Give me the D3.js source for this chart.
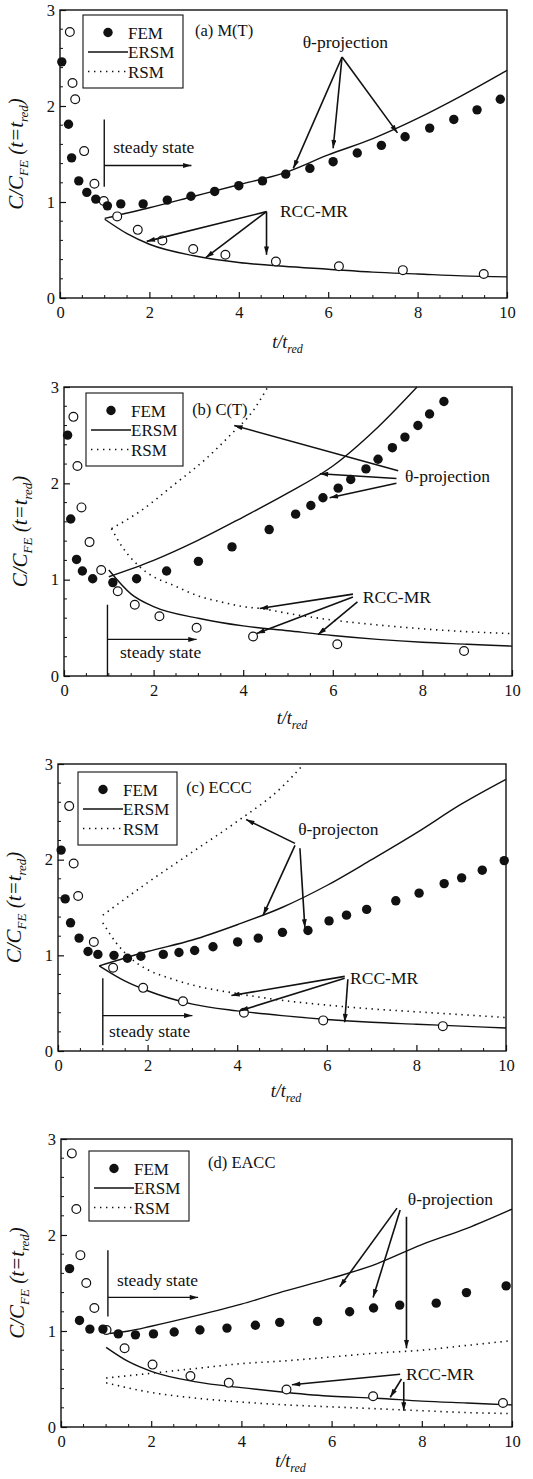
<!DOCTYPE html>
<html>
<head>
<meta charset="utf-8">
<script src="https://cdn.jsdelivr.net/npm/d3@7"></script>
<style>
	body { margin: 0; background: #fff; }
	text { font-family: "Liberation Serif", "DejaVu Serif", serif; fill: #111; }
</style>
</head>
<body>
<svg id="chart" width="533" height="1479"></svg>
<script>
// axis ticks and labels shared by the four panels
const xTicks = [0, 2, 4, 6, 8, 10];
const yTicks = [0, 1, 2, 3];
const legendLabels = ["FEM", "ERSM", "RSM"];
const panelTitles = ["(a) M(T)", "(b) C(T)", "(c) ECCC", "(d) EACC"];
const thetaLabels = ["θ-projection", "θ-projection", "θ-projecton", "θ-projection"];
const rccLabel = "RCC-MR";
const steadyLabel = "steady state";

// (a) M(T)
const femA = [[0.04,2.46],[0.19,1.81],[0.26,1.46],[0.42,1.22],[0.6,1.10],[0.8,1.03],[1.06,0.96],[1.36,0.98],[1.86,0.98],[2.4,1.02],[2.93,1.06],[3.46,1.11],[4.0,1.17],[4.53,1.22],[5.05,1.29],[5.59,1.35],[6.11,1.42],[6.65,1.51],[7.19,1.59],[7.72,1.68],[8.27,1.77],[8.81,1.86],[9.33,1.96],[9.85,2.07]];
const openA = [[0.22,2.77],[0.28,2.24],[0.34,2.07],[0.54,1.53],[0.77,1.19],[0.98,1.01],[1.28,0.85],[1.74,0.71],[2.29,0.60],[2.98,0.51],[3.70,0.45],[4.83,0.38],[6.24,0.33],[7.67,0.29],[9.48,0.25]];
const ersmUpA = [[1,0.83],[2,0.94],[3,1.06],[4,1.18],[5,1.30],[6,1.49],[7,1.66],[8,1.87],[9,2.11],[10,2.37]];
const ersmLowA = [[1,0.82],[1.5,0.67],[2,0.56],[3,0.44],[4,0.37],[5,0.33],[6,0.30],[7,0.27],[8,0.25],[9,0.23],[10,0.22]];

// (b) C(T)
const femB = [[0.08,2.50],[0.15,1.63],[0.28,1.21],[0.41,1.09],[0.64,1.01],[1.09,0.97],[1.62,1.01],[2.29,1.09],[3.0,1.19],[3.75,1.34],[4.58,1.52],[5.17,1.68],[5.51,1.77],[5.78,1.85],[6.12,1.95],[6.40,2.04],[6.74,2.15],[7.01,2.25],[7.33,2.37],[7.61,2.48],[7.90,2.60],[8.16,2.72],[8.48,2.85]];
const openB = [[0.21,2.69],[0.30,2.18],[0.39,1.75],[0.57,1.39],[0.83,1.10],[1.20,0.88],[1.58,0.74],[2.13,0.62],[2.96,0.50],[4.22,0.41],[6.10,0.33],[8.93,0.26]];
const ersmUpB = [[1.0,1.03],[2,1.20],[3,1.41],[4,1.65],[5,1.90],[6,2.18],[7,2.58],[7.88,3.0]];
const ersmLowB = [[1.0,1.10],[1.5,0.85],[2,0.72],[3,0.60],[4,0.52],[5,0.47],[6,0.42],[7,0.38],[8,0.35],[9,0.33],[10,0.31]];
const rsmUpB = [[1.06,1.53],[1.7,1.71],[2.44,1.98],[3.18,2.26],[3.71,2.50],[4.23,2.76],[4.55,3.0]];
const rsmLowB = [[1.06,1.53],[1.3,1.34],[1.7,1.13],[2,1.03],[2.4,0.95],[3,0.83],[3.5,0.77],[4,0.72],[4.4,0.70],[5,0.65],[6,0.58],[7,0.53],[8,0.49],[9,0.46],[10,0.44]];

// (c) ECCC
const femC = [[0.07,2.10],[0.16,1.59],[0.28,1.34],[0.47,1.18],[0.67,1.04],[0.89,1.01],[1.25,1.0],[1.55,0.97],[1.85,0.99],[2.35,1.01],[2.70,1.03],[3.05,1.05],[3.46,1.09],[4.01,1.14],[4.47,1.18],[5.01,1.24],[5.58,1.26],[6.05,1.36],[6.44,1.42],[6.89,1.48],[7.54,1.57],[8.06,1.65],[8.62,1.75],[9.01,1.81],[9.47,1.89],[9.96,1.99]];
const openC = [[0.25,2.56],[0.35,1.96],[0.45,1.62],[0.80,1.14],[1.23,0.87],[1.90,0.66],[2.79,0.52],[4.15,0.40],[5.92,0.32],[8.59,0.26]];
const ersmUpC = [[0.92,0.89],[2,1.04],[3,1.16],[4,1.32],[5,1.50],[6,1.73],[7,2.0],[8,2.28],[9,2.58],[10,2.84]];
const ersmLowC = [[0.92,0.89],[1.5,0.73],[2,0.63],[3,0.49],[4,0.42],[5,0.37],[6,0.33],[7,0.30],[8,0.28],[9,0.26],[10,0.24]];
const rsmUpC = [[1.0,1.42],[2,1.76],[3,2.08],[4,2.40],[5,2.76],[5.45,2.98]];
const rsmLowC = [[1.0,1.34],[1.3,1.13],[1.7,0.94],[2,0.85],[2.5,0.76],[3,0.69],[4,0.60],[5,0.53],[6,0.48],[7,0.44],[8,0.41],[9,0.38],[10,0.35]];

// (d) EACC
const femD = [[0.19,1.65],[0.41,1.11],[0.64,1.02],[0.93,1.02],[1.27,0.97],[1.65,0.96],[2.05,0.97],[2.51,0.99],[3.08,1.01],[3.68,1.03],[4.31,1.06],[4.85,1.09],[5.69,1.10],[6.40,1.20],[6.93,1.24],[7.51,1.27],[8.32,1.29],[8.99,1.40],[9.87,1.47]];
const openD = [[0.24,2.85],[0.34,2.27],[0.43,1.79],[0.56,1.50],[0.74,1.24],[1.01,1.01],[1.41,0.82],[2.03,0.65],[2.87,0.53],[3.72,0.46],[5.0,0.39],[6.92,0.32],[9.80,0.25]];
const ersmUpD = [[0.95,0.97],[1.5,1.0],[2,1.05],[3,1.16],[4,1.28],[5,1.42],[6,1.55],[7,1.70],[8,1.90],[9,2.07],[10,2.27]];
const ersmLowD = [[1.0,0.83],[1.5,0.68],[2,0.58],[3,0.47],[4,0.41],[5,0.36],[6,0.32],[7,0.30],[8,0.27],[9,0.25],[10,0.23]];
const rsmUpD = [[1.0,0.51],[2,0.56],[3,0.61],[4,0.66],[5,0.69],[6,0.73],[7,0.77],[8,0.80],[9,0.85],[10,0.90]];
const rsmLowD = [[1.0,0.46],[2,0.36],[3,0.30],[4,0.26],[5,0.23],[6,0.21],[7,0.19],[8,0.17],[9,0.15],[10,0.14]];

// layout and annotation placement per panel (annotations in data units)
const panels = [
	{
		fem: femA, open: openA, solid: [ersmUpA, ersmLowA], dotted: [],
		box: { left: 60, right: 507, top: 10, bottom: 298 }, xTitleDy: 50,
		legend: { x: 23, y: 5, w: 100, h: 73 },
		titleAt: [3.02, 2.73], thetaAt: [5.43, 2.60], rccAt: [4.92, 0.84], steadyAt: [1.19, 1.51],
		thetaArrows: [[6.31,2.51,5.22,1.35],[6.31,2.51,6.11,1.56],[6.31,2.51,7.55,1.72]],
		rccArrows: [[4.62,0.90,1.94,0.59],[4.62,0.90,3.26,0.42],[4.62,0.90,4.62,0.45]],
		steady: { x: 0.99, y1: 1.86, y2: 1.16, ay: 1.38, ax: 2.94 }
	},
	{
		fem: femB, open: openB, solid: [ersmUpB, ersmLowB], dotted: [rsmUpB, rsmLowB],
		box: { left: 64, right: 512, top: 387, bottom: 676 }, xTitleDy: 48,
		legend: { x: 22, y: 6, w: 97, h: 73 },
		titleAt: [2.86, 2.71], thetaAt: [7.61, 2.01], rccAt: [6.67, 0.76], steadyAt: [1.25, 0.19],
		thetaArrows: [[7.46,2.13,3.80,2.60],[7.42,2.05,5.71,2.10],[7.42,2.00,5.93,1.85]],
		rccArrows: [[6.45,0.85,4.37,0.70],[6.45,0.82,4.30,0.44],[6.55,0.77,5.67,0.43]],
		steady: { x: 0.97, y1: 0.74, y2: 0, ay: 0.38, ax: 2.96 }
	},
	{
		fem: femC, open: openC, solid: [ersmUpC, ersmLowC], dotted: [rsmUpC, rsmLowC],
		box: { left: 58, right: 506, top: 764, bottom: 1051 }, xTitleDy: 46,
		legend: { x: 20, y: 8, w: 99, h: 73 },
		titleAt: [2.86, 2.70], thetaAt: [5.36, 2.26], rccAt: [6.52, 0.70], steadyAt: [1.14, 0.15],
		thetaArrows: [[5.29,2.17,4.20,2.42],[5.29,2.15,4.58,1.42],[5.40,2.12,5.51,1.29]],
		rccArrows: [[6.40,0.78,3.87,0.58],[6.40,0.76,4.06,0.42],[6.47,0.75,6.40,0.30]],
		steady: { x: 1.0, y1: 0.76, y2: 0.06, ay: 0.37, ax: 3.0 }
	},
	{
		fem: femD, open: openD, solid: [ersmUpD, ersmLowD], dotted: [rsmUpD, rsmLowD],
		box: { left: 61, right: 512, top: 1139, bottom: 1427 }, xTitleDy: 40,
		legend: { x: 28, y: 12, w: 100, h: 70 },
		titleAt: [3.26, 2.70], thetaAt: [7.69, 2.31], rccAt: [7.65, 0.49], steadyAt: [1.24, 1.47],
		thetaArrows: [[7.45,2.28,6.18,1.46],[7.52,2.26,6.92,1.35],[7.66,2.19,7.66,0.82]],
		rccArrows: [[7.52,0.55,5.12,0.44],[7.55,0.50,7.30,0.31],[7.60,0.47,7.60,0.17]],
		steady: { x: 1.04, y1: 1.84, y2: 1.15, ay: 1.35, ax: 3.04 }
	}
];

const svg = d3.select("#chart");
svg.append("rect").attr("width", 533).attr("height", 1479).attr("fill", "#fff");

svg.append("defs").append("marker")
	.attr("id", "head")
	.attr("viewBox", "0 0 10 6")
	.attr("refX", 10).attr("refY", 3)
	.attr("markerWidth", 10).attr("markerHeight", 5)
	.attr("markerUnits", "userSpaceOnUse")
	.attr("orient", "auto")
	.append("path").attr("d", "M0,0 L10,3 L0,6 Z").attr("fill", "#111");

const ink = "#111";
const serif = "'Liberation Serif', 'DejaVu Serif', serif";

panels.forEach((p, i) => {
	const w = p.box.right - p.box.left;
	const h = p.box.bottom - p.box.top;
	const x = d3.scaleLinear().domain([0, 10]).range([0, w]);
	const y = d3.scaleLinear().domain([0, 3]).range([h, 0]);

	const g = svg.append("g").attr("transform", `translate(${p.box.left},${p.box.top})`);

	// minor ticks
	g.append("g").selectAll("line").data(d3.range(0.5, 10, 0.5).filter(v => v % 2 !== 0))
		.enter().append("line")
		.attr("x1", d => x(d)).attr("x2", d => x(d))
		.attr("y1", h).attr("y2", h - 3)
		.attr("stroke", ink).attr("stroke-width", 1);
	g.append("g").selectAll("line").data(d3.range(0.2, 3, 0.2).filter(v => Math.abs(v - Math.round(v)) > 0.01))
		.enter().append("line")
		.attr("x1", 0).attr("x2", 3)
		.attr("y1", d => y(d)).attr("y2", d => y(d))
		.attr("stroke", ink).attr("stroke-width", 1);

	// major ticks + labels
	const xAxis = g.append("g").attr("transform", `translate(0,${h})`)
		.call(d3.axisBottom(x).tickValues(xTicks).tickFormat(d3.format("d")).tickSizeInner(-6).tickSizeOuter(0).tickPadding(8));
	const yAxis = g.append("g")
		.call(d3.axisLeft(y).tickValues(yTicks).tickFormat(d3.format("d")).tickSizeInner(-6).tickSizeOuter(0).tickPadding(5));
	[xAxis, yAxis].forEach(a => {
		a.attr("font-family", serif);
		a.select(".domain").remove();
		a.selectAll("line").attr("stroke", ink).attr("stroke-width", 1.2);
		a.selectAll("text").style("font-size", "16.5px").style("font-family", serif).attr("fill", ink);
	});

	// frame
	g.append("rect").attr("width", w).attr("height", h)
		.attr("fill", "none").attr("stroke", ink).attr("stroke-width", 1.4);

	// axis titles
	const xt = g.append("text")
		.attr("x", w / 2 + 4).attr("y", h + p.xTitleDy)
		.attr("text-anchor", "middle").style("font-size", "18px").style("font-style", "italic");
	xt.append("tspan").text("t/t");
	xt.append("tspan").attr("dy", 5).style("font-size", "12px").text("red");

	const yt = g.append("text")
		.attr("transform", `translate(-37,${h / 2}) rotate(-90)`)
		.attr("text-anchor", "middle").style("font-size", "21px").style("font-style", "italic");
	yt.append("tspan").text("C/C");
	yt.append("tspan").attr("dy", 5).style("font-size", "13px").text("FE");
	yt.append("tspan").attr("dy", -5).text(" (t=t");
	yt.append("tspan").attr("dy", 5).style("font-size", "13px").text("red");
	yt.append("tspan").attr("dy", -5).text(")");

	const line = d3.line().x(d => x(d[0])).y(d => y(d[1])).curve(d3.curveMonotoneX);

	g.selectAll(".solid").data(p.solid).enter().append("path")
		.attr("class", "solid").attr("d", line)
		.attr("fill", "none").attr("stroke", ink).attr("stroke-width", 1.4);
	g.selectAll(".dotted").data(p.dotted).enter().append("path")
		.attr("class", "dotted").attr("d", line)
		.attr("fill", "none").attr("stroke", ink).attr("stroke-width", 1.6)
		.attr("stroke-dasharray", "1.4,4.6");

	g.selectAll(".open").data(p.open).enter().append("circle")
		.attr("class", "open")
		.attr("cx", d => x(d[0])).attr("cy", d => y(d[1])).attr("r", 4.4)
		.attr("fill", "#fff").attr("stroke", ink).attr("stroke-width", 1.2);
	g.selectAll(".fem").data(p.fem).enter().append("circle")
		.attr("class", "fem")
		.attr("cx", d => x(d[0])).attr("cy", d => y(d[1])).attr("r", 4.7)
		.attr("fill", ink);

	// annotations
	const arrows = p.thetaArrows.concat(p.rccArrows);
	g.selectAll(".arrow").data(arrows).enter().append("line")
		.attr("class", "arrow")
		.attr("x1", d => x(d[0])).attr("y1", d => y(d[1]))
		.attr("x2", d => x(d[2])).attr("y2", d => y(d[3]))
		.attr("stroke", ink).attr("stroke-width", 1.6)
		.attr("marker-end", "url(#head)");

	g.append("line")
		.attr("x1", x(p.steady.x)).attr("x2", x(p.steady.x))
		.attr("y1", y(p.steady.y1)).attr("y2", y(p.steady.y2))
		.attr("stroke", ink).attr("stroke-width", 1.4);
	g.append("line")
		.attr("x1", x(p.steady.x)).attr("x2", x(p.steady.ax))
		.attr("y1", y(p.steady.ay)).attr("y2", y(p.steady.ay))
		.attr("stroke", ink).attr("stroke-width", 1.4)
		.attr("marker-end", "url(#head)");

	const label = (pos, txt, size) => g.append("text")
		.attr("x", x(pos[0])).attr("y", y(pos[1]))
		.style("font-size", size + "px").text(txt);
	label(p.titleAt, panelTitles[i], 16.5);
	label(p.thetaAt, thetaLabels[i], 17.5);
	label(p.rccAt, rccLabel, 17.5);
	label(p.steadyAt, steadyLabel, 17.5);

	// legend
	const lg = g.append("g").attr("transform", `translate(${p.legend.x},${p.legend.y})`);
	lg.append("rect").attr("width", p.legend.w).attr("height", p.legend.h)
		.attr("fill", "#fff").attr("stroke", ink).attr("stroke-width", 1.1);
	const rows = [17.5, 37, 56.5];
	lg.append("circle").attr("cx", 25).attr("cy", rows[0]).attr("r", 4.7).attr("fill", ink);
	lg.append("line").attr("x1", 5).attr("x2", 45).attr("y1", rows[1]).attr("y2", rows[1])
		.attr("stroke", ink).attr("stroke-width", 1.4);
	lg.append("line").attr("x1", 5).attr("x2", 45).attr("y1", rows[2]).attr("y2", rows[2])
		.attr("stroke", ink).attr("stroke-width", 1.6).attr("stroke-dasharray", "1.4,4.6");
	lg.selectAll(".lt").data(legendLabels).enter().append("text")
		.attr("class", "lt")
		.attr("x", 45).attr("y", (d, k) => rows[k] + 6)
		.style("font-size", "17px").text(d => d);
});
</script>
</body>
</html>
